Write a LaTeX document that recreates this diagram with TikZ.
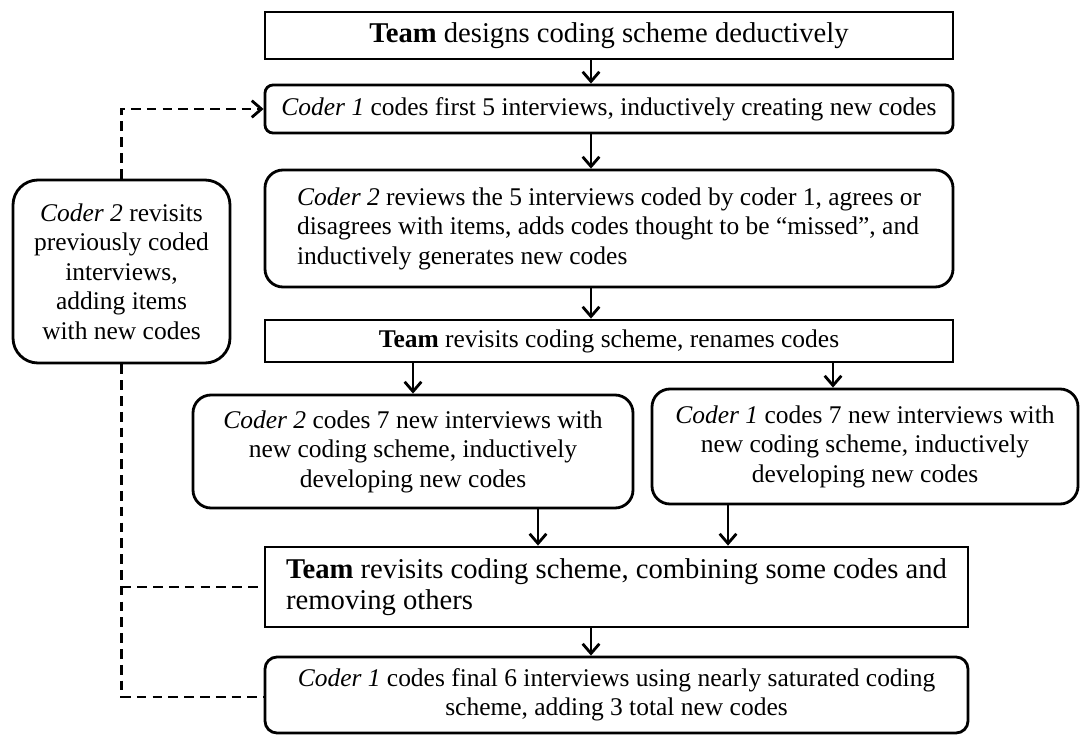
\documentclass[tikz,border=0pt]{standalone}
\usepackage{fontspec}
\setmainfont{Liberation Serif}
\usetikzlibrary{arrows.meta}

\begin{document}
\begin{tikzpicture}[x=0.02cm, y=-0.02cm,
    every node/.style={font=\fontsize{14.5}{16.8}\selectfont},
    grande/.style={font=\fontsize{16.3}{18}\selectfont},
    caja/.style={draw, line width=1.6pt, inner sep=2pt},
    cajaR/.style={caja, rounded corners=#1},
    cajaR/.default=0.36cm,
    punta/.style={-{Straight Barb[length=5.5pt, width=9.5pt, line width=1.6pt]}},
    flecha/.style={line width=1.6pt, punta},
    discont/.style={line width=1.6pt, dash pattern=on 5.5pt off 3.5pt}]

    % parámetros
    \def\pix{0.02cm}  % un píxel de la figura original

    % marco de la figura
    \useasboundingbox (0,0) rectangle (1081,734);

    % --- columna central ---
    \node[caja, grande, minimum width=688*\pix, minimum height=47*\pix] (equipoA) at (609,35.5)
        {\textbf{Team} designs coding scheme deductively};
    \node[cajaR=0.16cm, minimum width=688*\pix, minimum height=48*\pix] (codif1) at (609,109)
        {\textit{Coder 1} codes first 5 interviews, inductively creating new codes};
    \node[cajaR, minimum width=688*\pix, minimum height=117*\pix, align=left] (revisa2) at (609,228.5)
        {\textit{Coder 2} reviews the 5 interviews coded by coder 1, agrees or\\
         disagrees with items, adds codes thought to be “missed”, and\\
         inductively generates new codes};
    \node[caja, minimum width=688*\pix, minimum height=42*\pix] (equipoB) at (609,341)
        {\textbf{Team} revisits coding scheme, renames codes};

    % --- dos ramas ---
    \node[cajaR, minimum width=440*\pix, minimum height=113*\pix, align=center] (nuevas2) at (413,451.5)
        {\textit{Coder 2} codes 7 new interviews with\\
         new coding scheme, inductively\\
         developing new codes};
    \node[cajaR, minimum width=426*\pix, minimum height=115*\pix, align=center] (nuevas1) at (865,446.5)
        {\textit{Coder 1} codes 7 new interviews with\\
         new coding scheme, inductively\\
         developing new codes};

    % --- parte inferior ---
    \node[caja, grande, minimum width=703*\pix, minimum height=80*\pix, align=left] (equipoC) at (616.5,587)
        {\textbf{Team} revisits coding scheme, combining some codes and\\
         removing others};
    \node[cajaR=0.24cm, minimum width=703*\pix, minimum height=76*\pix, align=center] (final1) at (616.5,695)
        {\textit{Coder 1} codes final 6 interviews using nearly saturated coding\\
         scheme, adding 3 total new codes};

    % --- caja lateral ---
    \node[cajaR=0.5cm, minimum width=217*\pix, minimum height=183*\pix, align=center] (previas2) at (121.5,271.5)
        {\textit{Coder 2} revisits\\ previously coded\\ interviews,\\ adding items\\ with new codes};

    % columnas de las flechas
    \coordinate (colC) at (591,0);
    \coordinate (colE) at (413,0);
    \coordinate (colF) at (833,0);
    \coordinate (colGe) at (538,0);
    \coordinate (colGf) at (728,0);

    % flechas
    \draw[flecha] (equipoA.south -| colC) -- (codif1.north -| colC);
    \draw[flecha] (codif1.south -| colC) -- (revisa2.north -| colC);
    \draw[flecha] (revisa2.south -| colC) -- (equipoB.north -| colC);
    \draw[flecha] (equipoB.south -| colE) -- (nuevas2.north -| colE);
    \draw[flecha] (equipoB.south -| colF) -- (nuevas1.north -| colF);
    \draw[flecha] (nuevas2.south -| colGe) -- (equipoC.north -| colGe);
    \draw[flecha] (nuevas1.south -| colGf) -- (equipoC.north -| colGf);
    \draw[flecha] (equipoC.south -| colC) -- (final1.north -| colC);

    % líneas discontinuas
    \draw[discont, punta]
          (previas2.north) -- (previas2.north |- codif1.west) -- (codif1.west);
    \draw[discont] (previas2.south) -- (previas2.south |- 0,697) -- (final1.west |- 0,697);
    \draw[discont] (previas2.south |- equipoC.west) -- (equipoC.west);
\end{tikzpicture}
\end{document}
